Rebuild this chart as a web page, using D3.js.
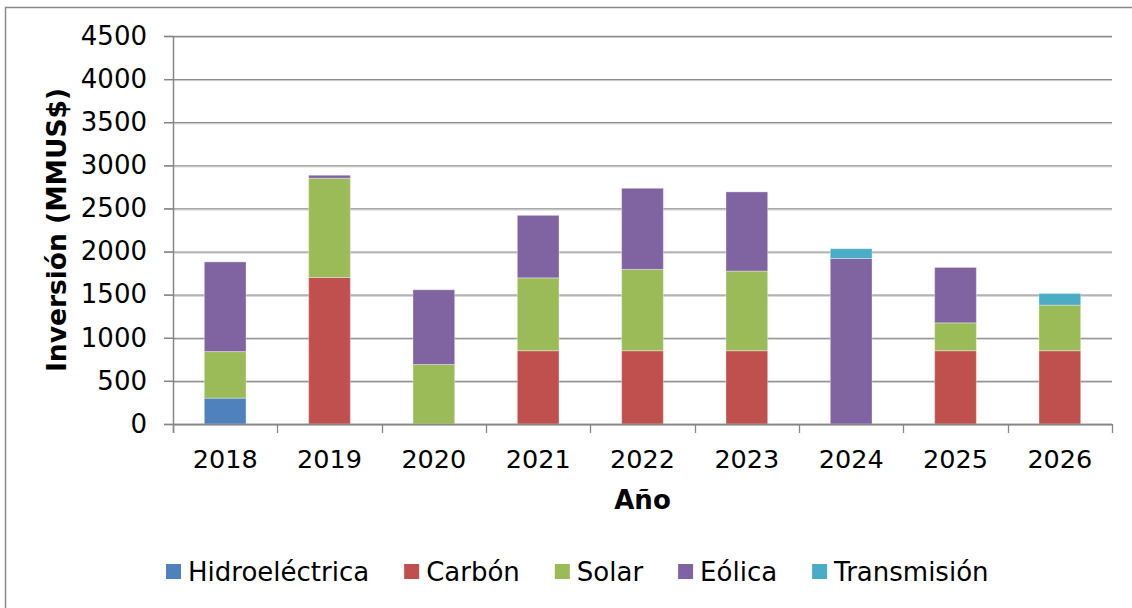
<!DOCTYPE html>
<html>
<head>
<meta charset="utf-8">
<script src="https://cdn.jsdelivr.net/npm/d3@7/dist/d3.min.js"></script>
<style>
  html, body { margin: 0; padding: 0; background: #fff; }
  svg { display: block; }
  text { font-family: "DejaVu Sans", Verdana, sans-serif; fill: #000; }
</style>
</head>
<body>
<svg id="chart" width="1132" height="608"></svg>
<script>
// ---- data ----
const years = ["2018", "2019", "2020", "2021", "2022", "2023", "2024", "2025", "2026"];
const seriesNames = ["Hidroeléctrica", "Carbón", "Solar", "Eólica", "Transmisión"];
const hidroelectrica = [300, 0, 0, 0, 0, 0, 0, 0, 0];
const carbon        = [0, 1700, 0, 850, 850, 850, 0, 850, 850];
const solar         = [540, 1150, 690, 845, 943, 924, 0, 323, 529];
const eolica        = [1040, 35, 867, 725, 941, 918, 1920, 643, 0];
const transmision   = [0, 0, 0, 0, 0, 0, 113, 0, 135];
const yTicks = [0, 500, 1000, 1500, 2000, 2500, 3000, 3500, 4000, 4500];
const colors = ["#4F81BD", "#C0504D", "#9BBB59", "#8064A2", "#4BACC6"];

const seriesValues = [hidroelectrica, carbon, solar, eolica, transmision];
const table = years.map((yr, i) => {
  const row = { year: yr };
  seriesNames.forEach((s, k) => { row[s] = seriesValues[k][i]; });
  return row;
});

// ---- layout ----
const svg = d3.select("#chart");
const pLeft = 173, pRight = 1112, pTop = 36, pBottom = 424;
const fs = 25.5;

// outer border
svg.append("rect")
  .attr("x", 5.5).attr("y", 7.5).attr("width", 1140).attr("height", 620)
  .attr("fill", "none").attr("stroke", "#8a8a8a").attr("stroke-width", 1.5);

const x = d3.scaleBand().domain(years).range([pLeft, pRight])
  .paddingInner(0.6).paddingOuter(0.3);
const y = d3.scaleLinear().domain([0, 4500]).range([pBottom, pTop]);

// gridlines
const grid = svg.append("g");
yTicks.forEach(t => {
  grid.append("line")
    .attr("x1", pLeft - 9).attr("x2", pRight)
    .attr("y1", y(t) + 0.5).attr("y2", y(t) + 0.5)
    .attr("stroke", "#8c8c8c").attr("stroke-width", 1.3);
  grid.append("line")
    .attr("x1", pLeft).attr("x2", pRight)
    .attr("y1", y(t) + 1.5).attr("y2", y(t) + 1.5)
    .attr("stroke", "#c8c8c8").attr("stroke-width", 1);
});

// bars
const stack = d3.stack().keys(seriesNames);
const stacked = stack(table);
svg.append("g").selectAll("g")
  .data(stacked).join("g")
  .attr("fill", (d, i) => colors[i])
  .selectAll("rect")
  .data(d => d.filter(p => p[1] - p[0] > 0))
  .join("rect")
  .attr("x", d => x(d.data.year))
  .attr("width", x.bandwidth())
  .attr("y", d => y(d[1]))
  .attr("height", d => y(d[0]) - y(d[1]))
  .attr("stroke", "rgba(255,255,255,0.35)")
  .attr("stroke-width", 1);

// y axis
const yAxis = d3.axisLeft(y).tickValues(yTicks).tickSize(9).tickPadding(17)
  .tickFormat(d3.format("d"));
const ya = svg.append("g").attr("transform", `translate(${pLeft},0)`).call(yAxis);
ya.select(".domain").attr("stroke", "#868686").attr("stroke-width", 1.5)
  .attr("d", `M0.5,${pTop}V${pBottom + 9}`);
ya.selectAll(".tick line").attr("stroke", "#868686").attr("stroke-width", 1.3);
ya.selectAll(".tick text").attr("font-size", 26)
  .style("font-family", '"DejaVu Sans", Verdana, sans-serif').attr("fill", "#000");

// x axis
const xAxis = d3.axisBottom(x).tickSize(0).tickPadding(0);
const xa = svg.append("g").attr("transform", `translate(0,${pBottom})`).call(xAxis);
xa.select(".domain").attr("stroke", "#868686").attr("stroke-width", 1.5)
  .attr("d", `M${pLeft},0.5H${pRight}`);
xa.selectAll(".tick text").attr("font-size", fs)
  .style("font-family", '"DejaVu Sans", Verdana, sans-serif').attr("fill", "#000")
  .attr("dy", null).attr("y", 44);
// category boundary ticks
const bounds = years.map(yr => x(yr) - x.step() * x.paddingInner() / 2);
bounds.push(pRight);
bounds[0] = pLeft;
xa.selectAll(".bound").data(bounds).join("line").attr("class", "bound")
  .attr("x1", d => Math.round(d) + 0.5).attr("x2", d => Math.round(d) + 0.5)
  .attr("y1", 0).attr("y2", 9)
  .attr("stroke", "#868686").attr("stroke-width", 1.3);

// axis titles
svg.append("text")
  .attr("transform", `translate(66,${(pTop + pBottom) / 2}) rotate(-90)`)
  .attr("text-anchor", "middle").attr("font-size", 26.5).attr("font-weight", "bold")
  .text("Inversión (MMUS$)");
svg.append("text")
  .attr("x", (pLeft + pRight) / 2).attr("y", 509)
  .attr("text-anchor", "middle").attr("font-size", 26).attr("font-weight", "bold")
  .text("Año");

// legend
const legend = svg.append("g");
let lx = 166;
seriesNames.forEach((s, i) => {
  legend.append("rect").attr("x", lx).attr("y", 564).attr("width", 15).attr("height", 15)
    .attr("fill", colors[i]);
  const t = legend.append("text").attr("x", lx + 22).attr("y", 581)
    .attr("font-size", 26).text(s);
  lx = lx + 22 + t.node().getComputedTextLength() + 35;
});
</script>
</body>
</html>
